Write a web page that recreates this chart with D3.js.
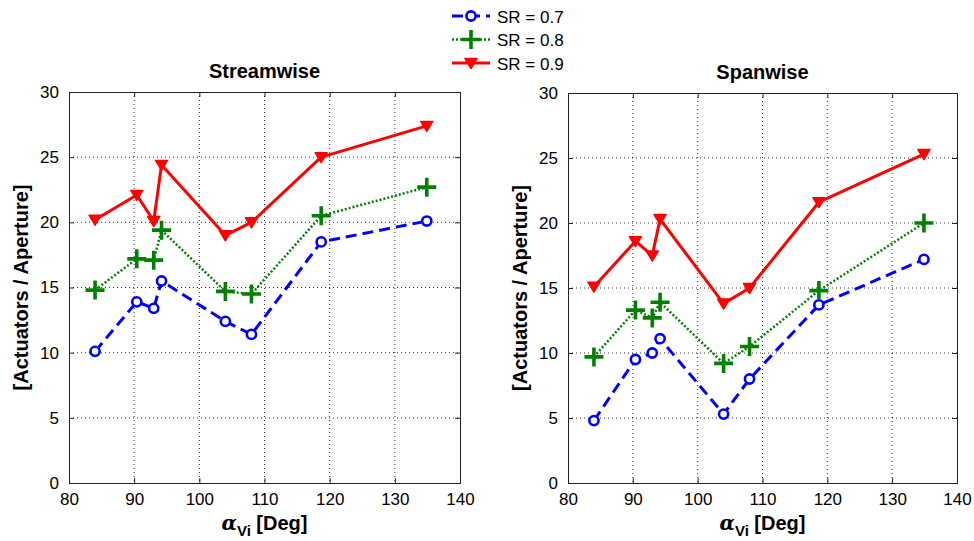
<!DOCTYPE html>
<html><head><meta charset="utf-8">
<script src="https://cdn.jsdelivr.net/npm/d3@7"></script>
<style>body{margin:0;background:#fff}svg{display:block}text{font-family:"Liberation Sans",Arial,sans-serif}</style>
</head><body><svg id="c" width="974" height="541"></svg>
<script>
const angles = [84, 90.4, 93, 94.2, 104, 108, 118.7, 134.9];
const streamSR07 = [10.1, 13.9, 13.4, 15.5, 12.4, 11.4, 18.5, 20.1];
const streamSR08 = [14.8, 17.2, 17.1, 19.4, 14.7, 14.5, 20.5, 22.7];
const streamSR09 = [20.2, 22.1, 20.1, 24.4, 19.0, 20.0, 25.0, 27.4];
const spanSR07 = [4.8, 9.5, 10.0, 11.1, 5.3, 8.0, 13.7, 17.2];
const spanSR08 = [9.7, 13.3, 12.7, 13.9, 9.2, 10.5, 14.8, 20.0];
const spanSR09 = [15.1, 18.6, 17.5, 20.3, 13.8, 15.0, 21.6, 25.3];
const xTicks = [80, 90, 100, 110, 120, 130, 140];
const yTicks = [0, 5, 10, 15, 20, 25, 30];
const seriesNames = ["SR = 0.7", "SR = 0.8", "SR = 0.9"];
const panelTitles = ["Streamwise", "Spanwise"];

const svg = d3.select("#c");
const styles = [
  {color:"#0000ff", dash:"11,6", width:3, marker:"circle"},
  {color:"#008000", dash:"2,2", width:2.5, marker:"plus"},
  {color:"#ff0000", dash:null, width:3, marker:"tri"}
];
function drawMarker(g, m, x, y, color){
  if(m==="circle"){
    g.append("circle").attr("cx",x).attr("cy",y).attr("r",4.6).attr("fill","#fff").attr("stroke",color).attr("stroke-width",2.6);
  } else if(m==="plus"){
    g.append("path").attr("d",`M${x-9.5},${y}H${x+9.5}M${x},${y-9.5}V${y+9.5}`).attr("stroke",color).attr("stroke-width",3.6).attr("fill","none");
  } else {
    g.append("path").attr("d",`M${x-6},${y-4.5}L${x+6},${y-4.5}L${x},${y+5.5}Z`).attr("fill",color).attr("stroke",color).attr("stroke-width",1.5).attr("stroke-linejoin","round");
  }
}
const panels = [
  {left:69, right:460, top:92, bottom:483, data:[streamSR07, streamSR08, streamSR09]},
  {left:568, right:957, top:93, bottom:483, data:[spanSR07, spanSR08, spanSR09]}
];
panels.forEach((p, pi)=>{
  const x = d3.scaleLinear().domain([80,140]).range([p.left,p.right]);
  const y = d3.scaleLinear().domain([0,30]).range([p.bottom,p.top]);
  const g = svg.append("g");
  // grid
  g.append("g").selectAll("line").data(xTicks.slice(1,-1)).join("line")
    .attr("x1",d=>x(d)).attr("x2",d=>x(d)).attr("y1",p.top).attr("y2",p.bottom)
    .attr("stroke","#000").attr("stroke-width",1).attr("stroke-dasharray","1,3").attr("opacity",0.8);
  g.append("g").selectAll("line").data(yTicks.slice(1,-1)).join("line")
    .attr("y1",d=>y(d)).attr("y2",d=>y(d)).attr("x1",p.left).attr("x2",p.right)
    .attr("stroke","#000").attr("stroke-width",1).attr("stroke-dasharray","1,3").attr("opacity",0.8);
  // axes
  const ax = g.append("g").attr("transform",`translate(0,${p.bottom})`)
    .call(d3.axisBottom(x).tickValues(xTicks).tickSize(-5).tickPadding(10).tickFormat(d3.format("d")));
  const ay = g.append("g").attr("transform",`translate(${p.left},0)`)
    .call(d3.axisLeft(y).tickValues(yTicks).tickSize(-5).tickPadding(10).tickFormat(d3.format("d")));
  const axT = g.append("g").attr("transform",`translate(0,${p.top})`)
    .call(d3.axisTop(x).tickValues(xTicks).tickSize(-5).tickFormat(""));
  const ayR = g.append("g").attr("transform",`translate(${p.right},0)`)
    .call(d3.axisRight(y).tickValues(yTicks).tickSize(-5).tickFormat(""));
  [ax,ay,axT,ayR].forEach(a=>{
    a.select(".domain").attr("stroke","#222").attr("stroke-width",1);
    a.selectAll(".tick line").attr("stroke","#222");
    a.selectAll("text").attr("font-size",17).attr("fill","#000");
  });
  // title
  g.append("text").attr("x",(p.left+p.right)/2).attr("y",p.top-14).attr("text-anchor","middle")
    .attr("font-size",20).attr("font-weight","bold").text(panelTitles[pi]);
  // y label
  g.append("text").attr("transform",`translate(${p.left-41},${(p.top+p.bottom)/2}) rotate(-90)`)
    .attr("text-anchor","middle").attr("font-size",20).attr("font-weight","bold").text("[Actuators / Aperture]");
  // x label
  const xl = g.append("text").attr("x",(p.left+p.right)/2).attr("y",p.bottom+47).attr("text-anchor","middle")
    .attr("font-size",20).attr("font-weight","bold");
  xl.append("tspan").attr("font-family","DejaVu Serif").attr("font-style","italic").text("α");
  xl.append("tspan").attr("dy",6).attr("font-size",15).text("Vi");
  xl.append("tspan").attr("dy",-6).text(" [Deg]");
  // series
  p.data.forEach((vals, si)=>{
    const st = styles[si];
    const line = d3.line().x((d,i)=>x(angles[i])).y(d=>y(d));
    g.append("path").datum(vals).attr("d",line).attr("fill","none")
      .attr("stroke",st.color).attr("stroke-width",st.width)
      .attr("stroke-dasharray",st.dash).attr("stroke-linejoin","round");
    vals.forEach((v,i)=>drawMarker(g, st.marker, x(angles[i]), y(v), st.color));
  });
});
// legend
const lg = svg.append("g");
seriesNames.forEach((n,i)=>{
  const st = styles[i];
  const yy = 16 + i*23.5;
  lg.append("path").attr("d",`M452,${yy}H490`).attr("stroke",st.color).attr("stroke-width",st.width)
    .attr("stroke-dasharray",st.dash).attr("fill","none");
  drawMarker(lg, st.marker, 471, yy, st.color);
  lg.append("text").attr("x",497).attr("y",yy+6.5).attr("font-size",17).text(n);
});
</script></body></html>
